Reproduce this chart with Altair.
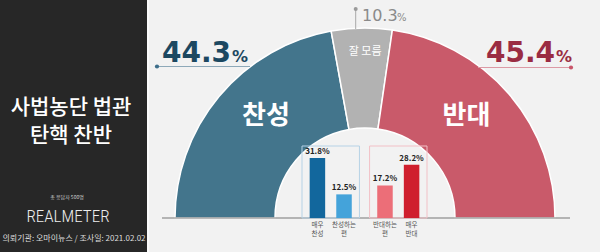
import altair as alt
import pandas as pd

# ---------------- data ----------------
segments = ["찬성", "잘 모름", "반대"]
seg_values = [44.3, 10.3, 45.4]
seg_colors = ["#43758c", "#b2b2b2", "#c95a6a"]

bar_groups = ["찬성", "찬성", "반대", "반대"]
bar_keys = ["매우 찬성", "찬성하는 편", "반대하는 편", "매우 반대"]
bar_slots = ["a", "b", "a", "b"]
bar_labels = ["매우\n찬성", "찬성하는\n편", "반대하는\n편", "매우\n반대"]
bar_values = [31.8, 12.5, 17.2, 28.2]
bar_colors = ["#12679d", "#44a3da", "#ec6e78", "#cf1f2e"]

title_text = "사법농단 법관\n탄핵 찬반"
sample_text = "총 응답자 500명"
brand_text = "REALMETER"
footer_text = "의뢰기관: 오마이뉴스  /  조사일: 2021.02.02"

KR = "Noto Sans CJK KR"
CX, CY = 365, 218

seg_df = pd.DataFrame({"seg": segments, "value": seg_values, "idx": list(range(len(segments)))})
bar_df = pd.DataFrame({"grp": bar_groups, "key": bar_keys, "slot": bar_slots,
                       "label": bar_labels, "value": bar_values,
                       "txt": [f"{v}%" for v in bar_values]})
grp_df = pd.DataFrame({"grp": list(dict.fromkeys(bar_groups))})
one = pd.DataFrame({"a": [0]})

seg_scale = alt.Scale(domain=segments, range=seg_colors)
theta_scale = alt.Scale(domain=[0, 100], range=[-3.14159265 / 2, 3.14159265 / 2], nice=False)
x_scale = alt.Scale(domain=["찬성", "반대"], range=[302, 427], paddingInner=0.15, paddingOuter=0)
y_scale = alt.Scale(domain=[0, 40], range=[218, 142.4], nice=False, zero=True)

# ---------------- left panel ----------------
panel = alt.Chart(one).mark_rect(color="#272727").encode(
    x=alt.value(0), x2=alt.value(147), y=alt.value(0), y2=alt.value(252))
stripe = alt.Chart(one).mark_rect(color="#fbfbfb").encode(
    x=alt.value(147), x2=alt.value(149), y=alt.value(0), y2=alt.value(252))


def txt(t, x, y, size, color, weight="normal", font=KR, align="center", lb=None, lh=None):
    kw = dict(text=t, font=font, fontSize=size, fontWeight=weight, color=color,
              align=align, baseline="alphabetic")
    if lb:
        kw["lineBreak"] = lb
        kw["lineHeight"] = lh
    return alt.Chart(one).mark_text(**kw).encode(x=alt.value(x), y=alt.value(y))


title = txt(title_text, 71, 114, 21, "white", 500, lb="\n", lh=28)
sample = txt(sample_text, 67, 199, 5, "#cfcfcf")
brand = txt(brand_text, 68, 222, 17, "#eeeeee", 300,
            font="Roboto Condensed, Liberation Sans Narrow, Roboto")
footer = txt(footer_text, 74, 241, 8, "#dddddd")

# ---------------- semicircle ----------------
arcs = alt.Chart(seg_df).mark_arc(radius=190, innerRadius=90, stroke="white", strokeWidth=1.5).encode(
    theta=alt.Theta("value:Q", stack=True, scale=theta_scale),
    color=alt.Color("seg:N", scale=seg_scale, legend=None),
    order=alt.Order("idx:Q"),
    x=alt.value(CX), y=alt.value(CY))


def seg_label(name, radius, size, weight, dx, dy):
    return alt.Chart(seg_df).transform_calculate(
        t=f"datum.seg == '{name}' ? datum.seg : ''"
    ).mark_text(radius=radius, font=KR, fontSize=size, fontWeight=weight,
                color="white", dx=dx, dy=dy).encode(
        theta=alt.Theta("value:Q", stack=True, scale=theta_scale),
        order=alt.Order("idx:Q"), text="t:N",
        x=alt.value(CX), y=alt.value(CY))


lab_yes = seg_label("찬성", 142, 26, "bold", 10, -11)
lab_no = seg_label("반대", 142, 26, "bold", -6, -9)
lab_dk = seg_label("잘 모름", 166, 11, "normal", 3, 0)


def hline(x1, x2, y, color):
    return alt.Chart(one).mark_rule(color=color, strokeWidth=1).encode(
        x=alt.value(x1), x2=alt.value(x2), y=alt.value(y))


def dot(x, y, color, size=18):
    return alt.Chart(one).mark_circle(color=color, opacity=1, size=size).encode(
        x=alt.value(x), y=alt.value(y))


D = "DejaVu Sans"
callouts = [
    hline(157, 250, 66.5, "#8ea9b9"), dot(157, 66.5, "#3d6e8a"),
    txt(f"{seg_values[0]}", 162, 62, 28, "#1c4861", "bold", D, "left"),
    txt("%", 232, 62, 16, "#1c4861", "bold", D, "left"),
    hline(478, 571, 67.5, "#dc9aa5"), dot(571, 67.5, "#c9566a"),
    txt(f"{seg_values[2]}", 486, 62, 28, "#9a2c42", "bold", D, "left"),
    txt("%", 556, 62, 16, "#9a2c42", "bold", D, "left"),
    alt.Chart(one).mark_rule(color="#a8a8a8", strokeWidth=1).encode(
        x=alt.value(355.7), y=alt.value(9), y2=alt.value(29)),
    dot(355.7, 9, "#9a9a9a", 16),
    txt(f"{seg_values[1]}", 362, 21, 16, "#8a8a8a", "normal", D, "left"),
    txt("%", 397, 21, 10, "#8a8a8a", "normal", D, "left"),
]
baseline = hline(162, 570, CY, "#777777")

# ---------------- inner bar chart ----------------
X = alt.X("grp:N", scale=x_scale, axis=None)
Y = alt.Y("value:Q", scale=y_scale, axis=None)

boxes = alt.Chart(grp_df).mark_rect(fillOpacity=0, strokeWidth=1).encode(
    x=X, y=alt.value(146), y2=alt.value(CY),
    stroke=alt.Stroke("grp:N", scale=alt.Scale(domain=["찬성", "반대"],
                                                range=["#b6d2e6", "#f2c0c6"]), legend=None))

SLOT_OFF = {"a": -13.3, "b": 13.3}
bar_layers = []
for slot, off in SLOT_OFF.items():
    src = alt.Chart(bar_df).transform_filter(f"datum.slot == '{slot}'")
    bar_layers.append(src.mark_bar(width=15.5, xOffset=off).encode(
        x=X, y=Y,
        fill=alt.Fill("key:N", scale=alt.Scale(domain=bar_keys, range=bar_colors), legend=None)))
    bar_layers.append(src.mark_text(
        baseline="bottom", dx=off, dy=-2, font=KR, fontSize=8, fontWeight="bold",
        color="#222222").encode(x=X, y=Y, text="txt:N"))
    bar_layers.append(src.mark_text(
        baseline="top", dx=off, lineBreak="\n", lineHeight=9, font=KR,
        fontSize=6.5, color="#555555").encode(x=X, y=alt.value(222), text="label:N"))

chart = alt.layer(
    panel, stripe, title, sample, brand, footer,
    arcs, lab_yes, lab_no, lab_dk, *callouts, baseline, boxes, *bar_layers,
).properties(
    width=600, height=252, autosize=alt.AutoSizeParams(type="none"), padding=0,
    background="#f2f2f2",
).configure_view(strokeWidth=0)

chart.save("out.html", embed_options={"renderer": "svg", "actions": False})
